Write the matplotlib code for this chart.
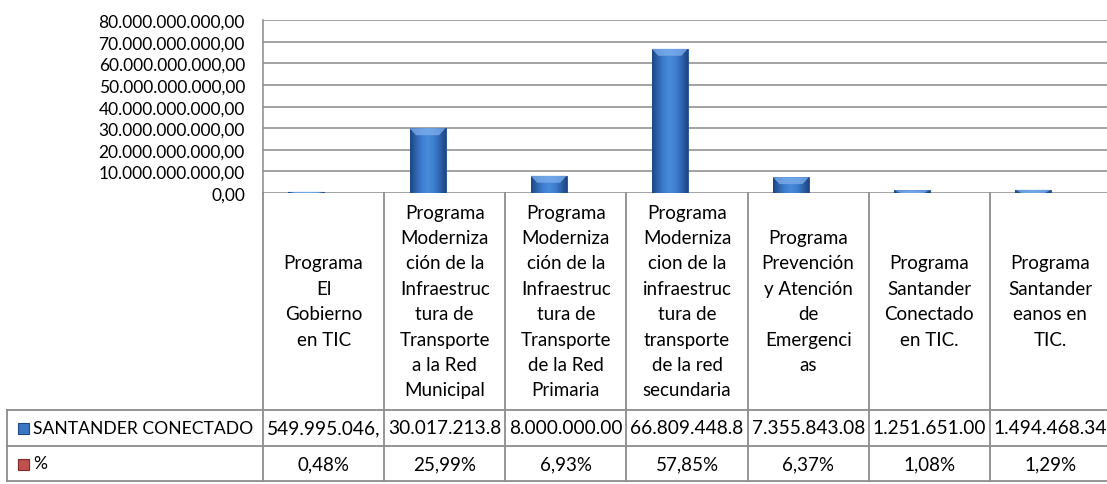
import numpy as np
import matplotlib
matplotlib.use("Agg")
import matplotlib.pyplot as plt
from matplotlib.colors import LinearSegmentedColormap
from matplotlib.patches import Polygon, Rectangle
from matplotlib.transforms import blended_transform_factory

plt.rcParams['font.family'] = ['Lato', 'DejaVu Sans']

# data
programas = [
    "Programa\nEl\nGobierno\nen TIC",
    "Programa\nModerniza\nción de la\nInfraestruc\ntura de\nTransporte\na la Red\nMunicipal",
    "Programa\nModerniza\nción de la\nInfraestruc\ntura de\nTransporte\nde la Red\nPrimaria",
    "Programa\nModerniza\ncion de la\ninfraestruc\ntura de\ntransporte\nde la red\nsecundaria",
    "Programa\nPrevención\ny Atención\nde\nEmergenci\nas",
    "Programa\nSantander\nConectado\nen TIC.",
    "Programa\nSantander\neanos en\nTIC.",
]
santander = [549995046.0, 30017213800.0, 8000000000.0, 66809448800.0,
             7355843080.0, 1251651000.0, 1494468340.0]
porcentaje = [0.0048, 0.2599, 0.0693, 0.5785, 0.0637, 0.0108, 0.0129]
santander_txt = ["549.995.046,", "30.017.213.8", "8.000.000.00", "66.809.448.8",
                 "7.355.843.08", "1.251.651.00", "1.494.468.34"]
porcentaje_txt = ["0,48%", "25,99%", "6,93%", "57,85%", "6,37%", "1,08%", "1,29%"]
serie_nombres = ["SANTANDER CONECTADO", "%"]

W, H = 1107, 485
fig = plt.figure(figsize=(W / 100, H / 100), dpi=100)


def fy(py):
    return (H - py) / H


# plot area: x 263..1111 px, y 21..194 px
ax = fig.add_axes([263 / W, fy(194), 848 / W, (194 - 21.3) / H])
x = np.arange(len(programas))
bw = 0.297
off = 0.142
bars = ax.bar(x - off, santander, bw, color='#3a76c4', edgecolor='#1f4a86',
              linewidth=0.6, zorder=3)
ax.bar(x + off, porcentaje, bw, color='#c0504d', zorder=3)

cmap = LinearSegmentedColormap.from_list(
    'bev', ['#1d4784', '#2f64ad', '#3f7fd0', '#4a8bdb', '#3f7fd0', '#2f64ad', '#1d4784'])
grad = np.linspace(0, 1, 64).reshape(1, -1)
px_unit = 10e9 / 21.6
for b in bars:
    x0, y0, w, h = b.get_x(), b.get_y(), b.get_width(), b.get_height()
    im = ax.imshow(grad, extent=[x0, x0 + w, y0, y0 + h], aspect='auto',
                   cmap=cmap, zorder=3.5)
    im.set_clip_path(b)
    bev = min(h, 7 * px_unit)
    top = Polygon([[x0, y0 + h], [x0 + w, y0 + h], [x0 + w * 0.82, y0 + h - bev],
                   [x0 + w * 0.18, y0 + h - bev]], closed=True,
                  facecolor='#7fb0ee', alpha=0.75, edgecolor='none', zorder=3.6)
    ax.add_patch(top)

ax.set_xlim(-0.5, len(programas) - 0.5)
ax.set_ylim(0, 80e9)
ax.set_yticks(np.arange(0, 80e9 + 1, 10e9))
ax.set_yticklabels([f"{v:,.2f}".replace(",", "X").replace(".", ",").replace("X", ".")
                    for v in np.arange(0, 80e9 + 1, 10e9)], fontsize=12.5)
ax.set_xticks([])
ax.tick_params(axis='y', length=0, pad=13)
ax.grid(axis='y', color='#8a8a8a', linewidth=1.1, zorder=0)
for s in ['top', 'right', 'bottom']:
    ax.spines[s].set_visible(False)
ax.spines['left'].set_color('#8a8a8a')
ax.spines['left'].set_linewidth(1.1)

# data table under the plot
tr = blended_transform_factory(ax.transData, fig.transFigure)
lc = '#8c8c8c'
lw = 1.3
left_tab = -0.5 - (263 - 7) / (848 / 7)
right_tab = len(programas) - 0.5
edges = np.arange(len(programas) + 1) - 0.5
for e in edges:
    fig.add_artist(plt.Line2D([e, e], [fy(194), fy(482)], transform=tr,
                              color=lc, linewidth=lw))
fig.add_artist(plt.Line2D([left_tab, left_tab], [fy(411), fy(482)], transform=tr,
                          color=lc, linewidth=lw))
for py in [411, 447, 482]:
    fig.add_artist(plt.Line2D([left_tab, right_tab], [fy(py), fy(py)], transform=tr,
                              color=lc, linewidth=lw))

for i, lab in enumerate(programas):
    fig.text(x[i], fy(302), lab, transform=tr, ha='center', va='center',
             fontsize=13.5, linespacing=1.6)
    fig.text(x[i], fy(429), santander_txt[i], transform=tr, ha='center',
             va='center', fontsize=13.8)
    fig.text(x[i], fy(464.5), porcentaje_txt[i], transform=tr, ha='center',
             va='center', fontsize=13.5)

for py, nombre, col, dark in [(429, serie_nombres[0], '#3a76c4', '#1f4a86'),
                              (464.5, serie_nombres[1], '#c0504d', '#7f2a28')]:
    fig.add_artist(Rectangle((18 / W, fy(py + 6)), 11 / W, 11 / H,
                             transform=fig.transFigure, facecolor=col,
                             edgecolor=dark, linewidth=0.8))
    fig.text(33 / W, fy(py), nombre, ha='left', va='center', fontsize=12.6)

fig.savefig("out.png", dpi=100)
